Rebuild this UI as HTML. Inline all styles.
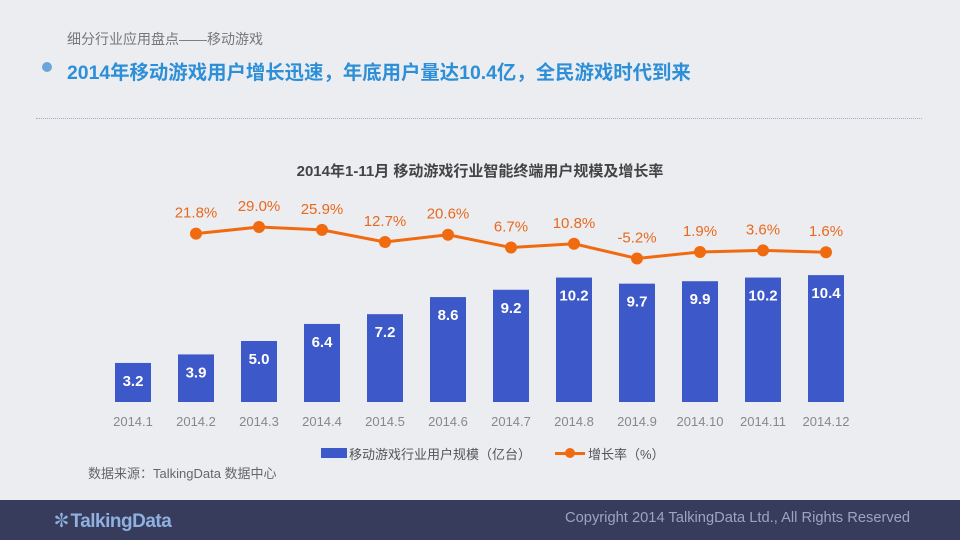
<!DOCTYPE html>
<html><head><meta charset="utf-8"><style>
body{margin:0;width:960px;height:540px;background:#ecedf1;font-family:"Liberation Sans","Noto Sans CJK SC",sans-serif;position:relative;overflow:hidden}
.t{position:absolute;white-space:nowrap}
</style></head><body>
<div class="t" style="left:67px;top:29px;font-size:14px;color:#777">细分行业应用盘点——移动游戏</div>
<div style="position:absolute;left:42px;top:62px;width:10px;height:10px;border-radius:50%;background:#6aa6dc"></div>
<div class="t" style="left:67px;top:56px;font-size:19.4px;font-weight:bold;color:#2d8fd8">2014年移动游戏用户增长迅速，年底用户量达10.4亿，全民游戏时代到来</div>
<div style="position:absolute;left:36px;top:118px;width:886px;border-top:1px dotted #aab"></div>
<div class="t" style="left:0;width:960px;text-align:center;top:160px;font-size:15px;font-weight:bold;color:#444">2014年1-11月 移动游戏行业智能终端用户规模及增长率</div>
<svg id="c" width="960" height="540" style="position:absolute;left:0;top:0"></svg>
<div style="position:absolute;left:321px;top:448px;width:26px;height:10px;background:#3d58c8"></div>
<div class="t" style="left:349px;top:444px;font-size:13px;color:#555">移动游戏行业用户规模（亿台）</div>
<div style="position:absolute;left:555px;top:452px;width:30px;height:3px;background:#f06a10"></div>
<div style="position:absolute;left:565px;top:448px;width:10px;height:10px;border-radius:50%;background:#f06a10"></div>
<div class="t" style="left:588px;top:444px;font-size:13px;color:#555">增长率（%）</div>
<div class="t" style="left:88px;top:463px;font-size:13px;color:#666">数据来源：TalkingData 数据中心</div>
<div style="position:absolute;left:0;top:500px;width:960px;height:40px;background:#383c5c"></div>
<div class="t" style="left:52px;top:506px;font-size:19px;font-weight:bold;color:#8fb0e0;letter-spacing:-0.5px">✽TalkingData</div>
<div class="t" style="left:565px;top:510px;font-size:14.7px;color:#9ea3c0">Copyright 2014 TalkingData Ltd., All Rights Reserved</div>
<script>
const categories=["2014.1","2014.2","2014.3","2014.4","2014.5","2014.6","2014.7","2014.8","2014.9","2014.10","2014.11","2014.12"];
const users=[3.2,3.9,5.0,6.4,7.2,8.6,9.2,10.2,9.7,9.9,10.2,10.4];
const growth=[null,21.8,29.0,25.9,12.7,20.6,6.7,10.8,-5.2,1.9,3.6,1.6];
const svg=document.getElementById('c');const NS='http://www.w3.org/2000/svg';
function x(i){return 133+i*63}
function yb(v){return 402-v*12.2}
function yl(v){return 253.7-v*0.92}
function mk(t,a){const e=document.createElementNS(NS,t);for(const k in a)e.setAttribute(k,a[k]);svg.appendChild(e);return e}
users.forEach((v,i)=>{
 const r=mk('rect',{x:x(i)-18,y:yb(v),width:36,height:402-yb(v),fill:'#3d58c8'});
 
 
 const t=mk('text',{x:x(i),y:yb(v)+23,'text-anchor':'middle','font-size':15,'font-weight':'bold',fill:'#fff','font-family':'Liberation Sans'});t.textContent=v.toFixed(1);
 
 
 const c=mk('text',{x:x(i),y:426,'text-anchor':'middle','font-size':13,fill:'#888','font-family':'Liberation Sans'});c.textContent=categories[i];
 
 
});
let pts=[];growth.forEach((v,i)=>{if(v!==null)pts.push(x(i)+','+yl(v))});
const pl=mk('polyline',{points:pts.join(' '),fill:'none',stroke:'#f06a10','stroke-width':3});


growth.forEach((v,i)=>{if(v===null)return;
 const d=mk('circle',{cx:x(i),cy:yl(v),r:6,fill:'#f06a10'});
 
 
 const t=mk('text',{x:x(i),y:yl(v)-16,'text-anchor':'middle','font-size':15,fill:'#e8691e','font-family':'Liberation Sans'});t.textContent=v.toFixed(1)+'%';
 
 
});
</script>
</body></html>
